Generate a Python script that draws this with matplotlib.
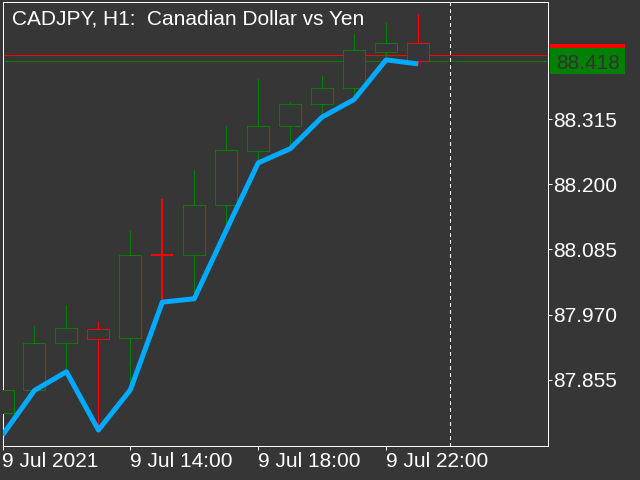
import matplotlib
matplotlib.use('Agg')
import matplotlib.pyplot as plt
from matplotlib.patches import Rectangle

plt.rcParams['font.family'] = ['Liberation Sans', 'DejaVu Sans']

# ---- data (CADJPY H1, 9 Jul 2021 10:00 .. 23:00) ----
bar_index = list(range(14))
opens  = [87.796, 87.836, 87.919, 87.944, 87.928, 88.076, 88.075, 88.164, 88.259, 88.304, 88.342, 88.370, 88.434, 88.449]
highs  = [87.840, 87.950, 87.987, 87.957, 88.117, 88.174, 88.225, 88.304, 88.386, 88.345, 88.392, 88.466, 88.485, 88.501]
lows   = [87.757, 87.836, 87.869, 87.766, 87.837, 87.992, 87.998, 88.119, 88.238, 88.263, 88.319, 88.350, 88.420, 88.413]
closes = [87.836, 87.919, 87.946, 87.926, 88.075, 88.075, 88.163, 88.260, 88.304, 88.342, 88.370, 88.437, 88.449, 88.418]
bid = 88.418
ask = 88.429
ytick_values = [87.855, 87.970, 88.085, 88.200, 88.315]
xtick_pos = [0, 4, 8, 12]
xtick_labels = ["9 Jul 2021", "9 Jul 14:00", "9 Jul 18:00", "9 Jul 22:00"]
day_separator = 14
title = "CADJPY, H1:  Canadian Dollar vs Yen"

# ---- style ----
bg = '#363636'
bull = '#008000'
bear = '#ff0000'
line_blue = '#00aaff'
px = 0.72  # one pixel in points

fig = plt.figure(figsize=(6.4, 4.8), dpi=100, facecolor=bg)
ax = fig.add_axes([2.5/640, (480-445.5)/480, 545/640, 443/480])
ax.set_facecolor(bg)
ax.set_xlim(0.01, 17.05)
ax.set_ylim(87.7387, 88.5214)

# bid / ask lines
ax.axhline(ask, color=bear, lw=px, zorder=1, antialiased=False)
ax.axhline(bid, color=bull, lw=px, zorder=1, antialiased=False)

# candles
body_w = 0.69
for x, o, h, l, c in zip(bar_index, opens, highs, lows, closes):
    col = bull if c > o else bear
    lw = px
    if abs(c - o) < 0.002:
        lw = 2 * px
    top = max(o, c)
    bot = min(o, c)
    ax.vlines(x, top, h, color=col, lw=lw, zorder=2, antialiased=False)
    ax.vlines(x, l, bot, color=col, lw=lw, zorder=2, antialiased=False)
    ax.bar(x, top - bot, bottom=bot, width=body_w, facecolor=bg,
           edgecolor=col, lw=lw, zorder=3, antialiased=False)

# line of lows
ax.plot(bar_index, lows, color=line_blue, lw=3.6, zorder=5,
        solid_joinstyle='round', solid_capstyle='butt')

# day separator
ax.axvline(day_separator, color='white', lw=px, ls=(0, (3, 3)), zorder=1,
           antialiased=False)

# axes styling
for s in ax.spines.values():
    s.set_color('white')
    s.set_linewidth(px)
    s.set_antialiased(False)
ax.yaxis.tick_right()
ax.set_yticks(ytick_values)
ax.set_yticklabels([f"{v:.3f}" for v in ytick_values])
ax.set_xticks(xtick_pos)
ax.set_xticklabels(xtick_labels, ha='left')
ax.tick_params(axis='both', colors='white', length=3, width=px, labelsize=15,
               labelcolor='white')
ax.tick_params(axis='y', pad=1)
ax.tick_params(axis='x', pad=2)

# title
fig.text(11.7/640, (480-24.3)/480, title, color='white', fontsize=15,
         va='baseline', ha='left')

# bid price label
fig.canvas.draw()
ypx = ax.transData.transform((0, bid))[1]
fig.patches.append(Rectangle((550/640, (ypx + 12.7)/480), 75/640, 4/480,
                             transform=fig.transFigure, facecolor=bear,
                             edgecolor='none', figure=fig))
fig.patches.append(Rectangle((550/640, (ypx - 12.7)/480), 75/640, 25.4/480,
                             transform=fig.transFigure, facecolor=bull,
                             edgecolor='none', figure=fig))
fig.text(556.5/640, ypx/480, f"{bid:.3f}", color='#333333', fontsize=15,
         va='center_baseline', ha='left')

fig.savefig('out.png', dpi=100, facecolor=bg)
